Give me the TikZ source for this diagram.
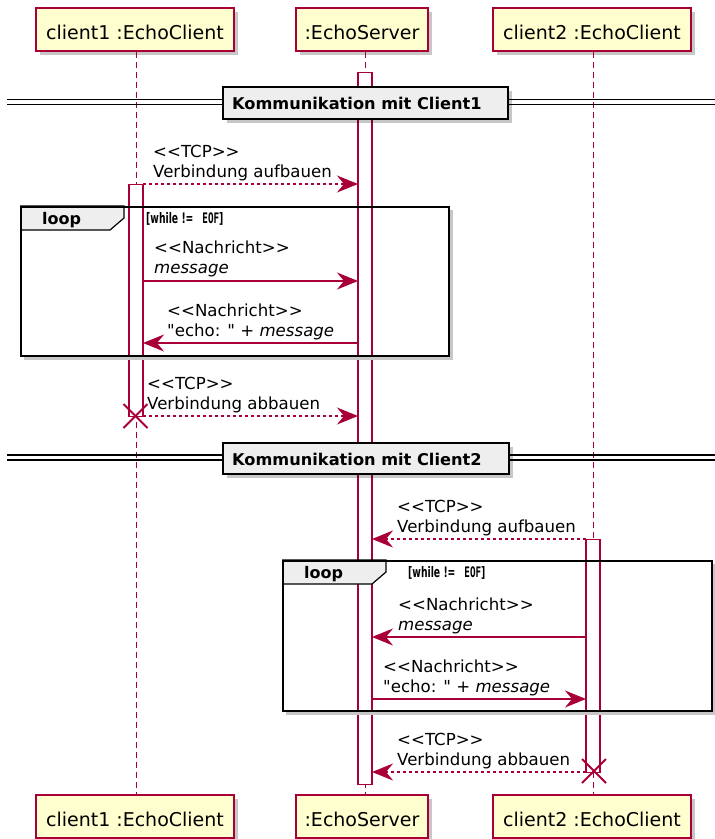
\documentclass[tikz,border=0pt]{standalone}
\usepackage{fontspec}
\newfontfamily\qfont{DejaVu Sans}
\newfontfamily\monobf{DejaVu Sans Mono}
\usepackage{graphicx}
\usetikzlibrary{arrows.meta,shadows}
\definecolor{pu}{HTML}{A80036}
\definecolor{pfill}{HTML}{FEFECE}
\definecolor{dfill}{HTML}{EEEEEE}
\newcommand{\lAng}{<\kern0pt<}
\newcommand{\rAng}{>\kern0pt>}
\newcommand{\msglbl}[5]{%
  \node[lbl] (#1a) at (#2,#3) {#4};
  \node[lbl] (#1b) at (#2,#3+20) {#5};}
\newcommand{\guardtxt}{\scalebox{0.64}[1]{\bfseries [while !=\hspace{14pt}{\monobf\bfseries EOF}]}}
\begin{document}
\begin{tikzpicture}[x=1pt,y=-1pt,
  shad/.style={drop shadow={shadow xshift=4pt,shadow yshift=-4pt,fill=black,opacity=0.22}},
  partbox/.style={draw=pu,fill=pfill,line width=1.3pt,shad,minimum height=43pt,
    text height=19pt,text depth=0pt,inner sep=0pt,font=\qfont\fontsize{19}{22}\selectfont},
  life/.style={draw=pu,line width=1pt,dash pattern=on 6pt off 4pt},
  actbar/.style={draw=pu,fill=white,line width=1.2pt,inner sep=0pt,anchor=north,minimum width=14pt},
  msgsolid/.style={draw=pu,line width=1.3pt,-{Stealth[length=21pt,width=17pt,inset=7pt]}},
  msgdash/.style={msgsolid,dash pattern=on 3pt off 3pt},
  lbl/.style={anchor=base west,inner sep=0pt,font=\qfont\fontsize{16.6}{20}\selectfont},
  frame/.style={draw=black,line width=2pt,anchor=north west,inner sep=0pt},
  fshadow/.style={draw=black!22,line width=2.5pt},
  tab/.style={draw=black,fill=dfill,line width=1.2pt},
  looptxt/.style={anchor=base west,inner sep=0pt,font=\qfont\bfseries\fontsize{16}{20}\selectfont},
  guardst/.style={anchor=base west,inner sep=0pt,font=\qfont\fontsize{14.5}{16}\selectfont},
  dline/.style={draw=black,line width=1.2pt},
  divbox/.style={draw=black,fill=dfill,line width=2pt,shad,anchor=north west,inner sep=0pt},
  divtxt/.style={anchor=base west,inner sep=0pt,font=\qfont\bfseries\fontsize{16.2}{20}\selectfont},
  destroy/.style={draw=pu,line width=2pt},
]
\useasboundingbox (0,0) rectangle (715,839);

% participants
\node[partbox,minimum width=198pt] (c1t) at (135,29.5) {client1 :EchoClient};
\node[partbox,minimum width=132pt] (svt) at (362,29.5) {:EchoServer};
\node[partbox,minimum width=198pt] (c2t) at (592,29.5) {client2 :EchoClient};
\node[partbox,minimum width=198pt] (c1b) at (135,816.5) {client1 :EchoClient};
\node[partbox,minimum width=132pt] (svb) at (362,816.5) {:EchoServer};
\node[partbox,minimum width=198pt] (c2b) at (592,816.5) {client2 :EchoClient};

% activation bars (positions)
\coordinate (svtop) at (365,72);
\coordinate (c1top) at (136,184);
\coordinate (c2top) at (593,539);

% lifelines
\draw[life] (c1t.south -| c1top) -- (c1b.north -| c1top);
\draw[life] (svt.south -| svtop) -- (svb.north -| svtop);
\draw[life] (c2t.south -| c2top) -- (c2b.north -| c2top);

% activations
\node[actbar,minimum height=712pt] (svact) at (svtop) {};
\node[actbar,minimum height=232pt] (c1act) at (c1top) {};
\node[actbar,minimum height=233pt] (c2act) at (c2top) {};

% loop frames
\draw[fshadow] (451.5,210) -- (451.5,358.5) -- (24,358.5);
\draw[tab] (20,206) -- (124,206) -- (124,218) -- (110,230) -- (20,230);
\node[frame,minimum width=428pt,minimum height=149pt] (loop1) at (20,206) {};
\node[looptxt] (lp1) at (42,224) {loop};
\node[guardst] (g1) at (146,223) {\guardtxt};

\draw[fshadow] (714.5,564) -- (714.5,713.5) -- (286,713.5);
\draw[tab] (282,560) -- (386,560) -- (386,572) -- (372,584) -- (282,584);
\node[frame,minimum width=429pt,minimum height=150pt] (loop2) at (282,560) {};
\node[looptxt] (lp2) at (304,578) {loop};
\node[guardst] (g2) at (408,577) {\guardtxt};

% dividers
\draw[dline] (7,99.5) -- (715,99.5);
\draw[dline] (7,104.5) -- (715,104.5);
\node[divbox,minimum width=285pt,minimum height=32pt] (div1) at (222,86) {};
\node[divtxt] (div1t) at (232,109) {Kommunikation mit Client1};

\draw[dline] (7,455) -- (715,455);
\draw[dline] (7,460) -- (715,460);
\node[divbox,minimum width=286pt,minimum height=31pt] (div2) at (222,442) {};
\node[divtxt] (div2t) at (232,465) {Kommunikation mit Client2};

% message end points
\coordinate (m1s) at (143,184);  \coordinate (m1e) at (358,184);
\coordinate (m2s) at (143,281);  \coordinate (m2e) at (358,281);
\coordinate (m3s) at (358,343);  \coordinate (m3e) at (143,343);
\coordinate (m4s) at (143,416);  \coordinate (m4e) at (358,416);
\coordinate (m5s) at (586,539);  \coordinate (m5e) at (372,539);
\coordinate (m6s) at (586,637);  \coordinate (m6e) at (372,637);
\coordinate (m7s) at (372,699);  \coordinate (m7e) at (586,699);
\coordinate (m8s) at (586,772);  \coordinate (m8e) at (372,772);

% messages
\draw[msgdash]  (m1s) -- (m1e);
\draw[msgsolid] (m2s) -- (m2e);
\draw[msgsolid] (m3s) -- (m3e);
\draw[msgdash]  (m4s) -- (m4e);
\draw[msgdash]  (m5s) -- (m5e);
\draw[msgsolid] (m6s) -- (m6e);
\draw[msgsolid] (m7s) -- (m7e);
\draw[msgdash]  (m8s) -- (m8e);

% labels
\msglbl{l1}{153}{157}{\lAng TCP\rAng}{Verbindung aufbauen}
\msglbl{l2}{154}{253}{\lAng Nachricht\rAng}{\itshape message}
\msglbl{l3}{167}{316}{\lAng Nachricht\rAng}{"echo: " + {\itshape message}}
\msglbl{l4}{147}{389}{\lAng TCP\rAng}{Verbindung abbauen}
\msglbl{l5}{397}{512}{\lAng TCP\rAng}{Verbindung aufbauen}
\msglbl{l6}{398}{610}{\lAng Nachricht\rAng}{\itshape message}
\msglbl{l7}{383}{672}{\lAng Nachricht\rAng}{"echo: " + {\itshape message}}
\msglbl{l8}{397}{745}{\lAng TCP\rAng}{Verbindung abbauen}

% destroy marks
\coordinate (x1) at (135.5,416);
\coordinate (x2) at (594,771);
\draw[destroy] ([shift={(-12,-12)}]x1) -- ([shift={(12,12)}]x1);
\draw[destroy] ([shift={(-12,12)}]x1) -- ([shift={(12,-12)}]x1);
\draw[destroy] ([shift={(-12,-12)}]x2) -- ([shift={(12,12)}]x2);
\draw[destroy] ([shift={(-12,12)}]x2) -- ([shift={(12,-12)}]x2);
\end{tikzpicture}
\end{document}
